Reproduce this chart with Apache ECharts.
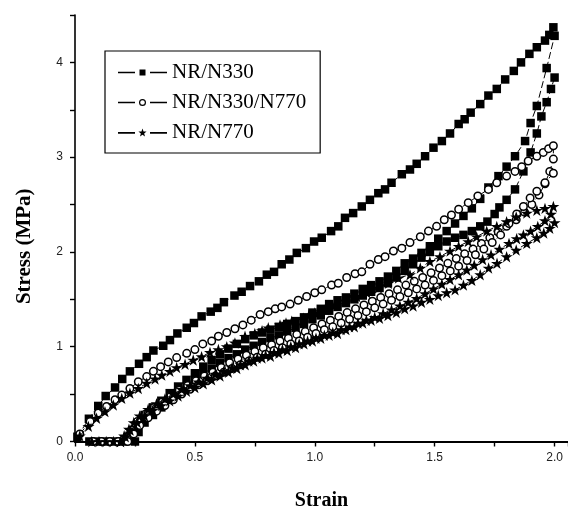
<!DOCTYPE html>
<html><head><meta charset="utf-8">
<script src="https://cdn.jsdelivr.net/npm/echarts@6/dist/echarts.min.js"></script>
<style>html,body{margin:0;padding:0;background:#fff}#c{width:568px;height:515px}</style>
</head><body><div id="c"></div>
<script>
const seriesNames = ['NR/N330', 'NR/N330/N770', 'NR/N770'];
const xTickLabels = ['0.0', '0.5', '1.0', '1.5', '2.0'];
const yTickLabels = ['0', '1', '2', '3', '4'];

// NR/N330 : [strain, stress (MPa)]
const n330Loading = [[0.01,0.05],[0.058,0.24],[0.097,0.375],[0.128,0.48],[0.167,0.57],[0.197,0.66],[0.229,0.74],[0.267,0.82],[0.299,0.89],[0.327,0.96],[0.368,1.01],[0.396,1.07],[0.427,1.14],[0.466,1.20],[0.496,1.25],[0.528,1.32],[0.566,1.37],[0.594,1.41],[0.621,1.47],[0.665,1.54],[0.695,1.58],[0.73,1.64],[0.767,1.69],[0.80,1.76],[0.83,1.79],[0.862,1.87],[0.894,1.92],[0.925,1.99],[0.963,2.04],[0.997,2.11],[1.029,2.15],[1.068,2.22],[1.098,2.27],[1.126,2.36],[1.16,2.41],[1.196,2.48],[1.23,2.55],[1.265,2.62],[1.293,2.66],[1.32,2.73],[1.363,2.82],[1.397,2.87],[1.425,2.93],[1.46,3.01],[1.495,3.10],[1.53,3.17],[1.564,3.25],[1.60,3.35],[1.625,3.40],[1.65,3.47],[1.69,3.56],[1.724,3.65],[1.759,3.72],[1.794,3.82],[1.83,3.91],[1.86,4.00],[1.895,4.09],[1.926,4.16],[1.96,4.23],[1.978,4.29],[1.995,4.37]];
const n330Unloading = [[2.0,4.28],[1.967,3.94],[1.926,3.54],[1.90,3.36],[1.877,3.17],[1.835,3.01],[1.80,2.90],[1.766,2.80],[1.724,2.68],[1.69,2.56],[1.655,2.46],[1.62,2.38],[1.585,2.30],[1.55,2.22],[1.515,2.14],[1.48,2.06],[1.445,1.99],[1.41,1.93],[1.375,1.88],[1.34,1.80],[1.305,1.74],[1.27,1.69],[1.235,1.65],[1.20,1.61],[1.165,1.56],[1.13,1.52],[1.095,1.49],[1.06,1.45],[1.025,1.40],[0.99,1.36],[0.955,1.31],[0.92,1.27],[0.885,1.24],[0.85,1.21],[0.815,1.18],[0.78,1.15],[0.745,1.12],[0.71,1.08],[0.675,1.03],[0.64,0.98],[0.605,0.92],[0.57,0.86],[0.535,0.79],[0.50,0.72],[0.465,0.65],[0.43,0.58],[0.395,0.51],[0.36,0.43],[0.325,0.36],[0.29,0.28],[0.265,0.20],[0.25,0.12],[0.235,0.04],[0.20,0.0],[0.165,0.0],[0.13,0.0],[0.095,0.0],[0.06,0.0]];
const n330Reloading = [[0.25,0.0],[0.265,0.1],[0.29,0.2],[0.325,0.28],[0.36,0.36],[0.395,0.44],[0.43,0.51],[0.465,0.58],[0.50,0.65],[0.535,0.71],[0.57,0.77],[0.605,0.83],[0.64,0.88],[0.675,0.92],[0.71,0.97],[0.745,1.01],[0.78,1.05],[0.815,1.09],[0.85,1.12],[0.885,1.16],[0.92,1.20],[0.955,1.24],[0.99,1.29],[1.025,1.33],[1.06,1.38],[1.095,1.42],[1.13,1.46],[1.165,1.50],[1.20,1.54],[1.235,1.58],[1.27,1.62],[1.305,1.67],[1.34,1.73],[1.375,1.80],[1.41,1.87],[1.445,1.94],[1.48,2.00],[1.515,2.06],[1.55,2.11],[1.585,2.15],[1.62,2.18],[1.655,2.22],[1.69,2.27],[1.72,2.32],[1.75,2.40],[1.77,2.47],[1.80,2.55],[1.835,2.66],[1.87,2.85],[1.90,3.05],[1.926,3.25],[1.945,3.43],[1.967,3.58],[1.985,3.72],[2.0,3.84]];

// NR/N330/N770
const n330n770Loading = [[0.02,0.08],[0.063,0.21],[0.097,0.30],[0.132,0.37],[0.167,0.44],[0.195,0.49],[0.229,0.56],[0.264,0.63],[0.299,0.685],[0.327,0.74],[0.357,0.79],[0.389,0.84],[0.424,0.885],[0.466,0.93],[0.50,0.97],[0.533,1.03],[0.57,1.06],[0.598,1.11],[0.633,1.15],[0.667,1.19],[0.70,1.23],[0.735,1.28],[0.772,1.34],[0.806,1.37],[0.835,1.40],[0.862,1.42],[0.897,1.45],[0.931,1.49],[0.966,1.53],[1.0,1.57],[1.029,1.60],[1.07,1.65],[1.098,1.67],[1.133,1.73],[1.168,1.77],[1.196,1.79],[1.23,1.87],[1.265,1.92],[1.293,1.95],[1.328,2.01],[1.363,2.04],[1.397,2.10],[1.44,2.16],[1.474,2.22],[1.508,2.27],[1.54,2.34],[1.57,2.39],[1.60,2.45],[1.64,2.52],[1.68,2.59],[1.724,2.66],[1.759,2.73],[1.80,2.80],[1.835,2.85],[1.863,2.90],[1.89,2.96],[1.926,3.01],[1.953,3.05],[1.975,3.09],[1.995,3.12]];
const n330n770Unloading = [[1.995,2.98],[1.98,2.85],[1.96,2.72],[1.935,2.60],[1.905,2.50],[1.875,2.42],[1.84,2.34],[1.80,2.27],[1.765,2.21],[1.73,2.15],[1.695,2.09],[1.66,2.03],[1.625,1.98],[1.59,1.93],[1.555,1.88],[1.52,1.83],[1.485,1.78],[1.45,1.73],[1.415,1.69],[1.38,1.65],[1.345,1.60],[1.31,1.56],[1.275,1.52],[1.24,1.48],[1.205,1.44],[1.17,1.40],[1.135,1.36],[1.10,1.32],[1.065,1.28],[1.03,1.24],[0.995,1.20],[0.96,1.16],[0.925,1.13],[0.89,1.09],[0.855,1.06],[0.82,1.02],[0.785,0.99],[0.75,0.95],[0.715,0.91],[0.68,0.87],[0.645,0.83],[0.61,0.78],[0.575,0.73],[0.54,0.69],[0.505,0.64],[0.47,0.59],[0.435,0.54],[0.40,0.48],[0.365,0.42],[0.33,0.36],[0.295,0.29],[0.26,0.21],[0.235,0.12],[0.215,0.04],[0.18,0.0],[0.145,0.0],[0.11,0.0],[0.075,0.0]];
const n330n770Reloading = [[0.22,0.0],[0.245,0.08],[0.27,0.17],[0.305,0.25],[0.34,0.32],[0.375,0.38],[0.41,0.44],[0.445,0.50],[0.48,0.55],[0.515,0.60],[0.55,0.64],[0.585,0.69],[0.62,0.73],[0.655,0.77],[0.69,0.81],[0.725,0.85],[0.76,0.89],[0.795,0.92],[0.83,0.96],[0.865,0.99],[0.90,1.03],[0.935,1.06],[0.97,1.10],[1.005,1.14],[1.04,1.18],[1.075,1.21],[1.11,1.25],[1.145,1.29],[1.18,1.33],[1.215,1.37],[1.25,1.41],[1.285,1.45],[1.32,1.49],[1.355,1.53],[1.39,1.57],[1.425,1.61],[1.46,1.65],[1.495,1.70],[1.53,1.75],[1.565,1.80],[1.60,1.85],[1.635,1.91],[1.67,1.97],[1.705,2.03],[1.74,2.10],[1.775,2.18],[1.81,2.30],[1.842,2.40],[1.87,2.48],[1.898,2.57],[1.926,2.64],[1.96,2.73],[1.995,2.83]];

// NR/N770
const n770Loading = [[0.02,0.06],[0.056,0.16],[0.09,0.245],[0.125,0.315],[0.16,0.385],[0.195,0.455],[0.229,0.51],[0.264,0.56],[0.299,0.615],[0.334,0.66],[0.362,0.70],[0.396,0.74],[0.424,0.78],[0.459,0.815],[0.493,0.86],[0.528,0.895],[0.563,0.94],[0.598,0.97],[0.633,1.0],[0.667,1.04],[0.709,1.11],[0.75,1.14],[0.78,1.17],[0.806,1.20],[0.855,1.23],[0.88,1.25],[0.904,1.27],[0.952,1.30],[0.975,1.33],[1.0,1.355],[1.043,1.39],[1.085,1.44],[1.126,1.48],[1.175,1.53],[1.217,1.57],[1.265,1.62],[1.307,1.67],[1.349,1.725],[1.397,1.76],[1.44,1.83],[1.48,1.90],[1.522,1.95],[1.564,2.01],[1.60,2.06],[1.64,2.11],[1.675,2.16],[1.717,2.22],[1.759,2.27],[1.80,2.32],[1.84,2.37],[1.884,2.41],[1.926,2.44],[1.96,2.46],[1.995,2.48]];
const n770Unloading = [[1.985,2.40],[1.96,2.33],[1.93,2.27],[1.90,2.22],[1.87,2.18],[1.842,2.14],[1.81,2.09],[1.77,2.03],[1.735,1.97],[1.70,1.92],[1.665,1.86],[1.634,1.81],[1.60,1.76],[1.564,1.71],[1.53,1.66],[1.495,1.61],[1.46,1.56],[1.425,1.51],[1.39,1.47],[1.355,1.43],[1.32,1.39],[1.285,1.35],[1.25,1.31],[1.215,1.28],[1.18,1.25],[1.145,1.21],[1.11,1.18],[1.075,1.15],[1.04,1.12],[1.005,1.09],[0.97,1.06],[0.935,1.03],[0.90,1.0],[0.865,0.97],[0.83,0.94],[0.795,0.91],[0.76,0.88],[0.725,0.85],[0.69,0.81],[0.655,0.78],[0.62,0.74],[0.585,0.71],[0.55,0.67],[0.515,0.63],[0.48,0.59],[0.445,0.55],[0.41,0.50],[0.375,0.45],[0.34,0.40],[0.305,0.34],[0.27,0.27],[0.245,0.20],[0.225,0.13],[0.205,0.06],[0.19,0.0],[0.16,0.0],[0.13,0.0],[0.10,0.0],[0.07,0.0]];
const n770Reloading = [[0.19,0.0],[0.21,0.05],[0.23,0.12],[0.26,0.2],[0.29,0.27],[0.325,0.33],[0.36,0.38],[0.395,0.43],[0.43,0.48],[0.465,0.53],[0.50,0.57],[0.535,0.61],[0.57,0.65],[0.605,0.69],[0.64,0.73],[0.675,0.77],[0.71,0.81],[0.745,0.85],[0.78,0.88],[0.815,0.90],[0.85,0.93],[0.885,0.96],[0.92,0.99],[0.955,1.03],[0.99,1.06],[1.025,1.09],[1.06,1.12],[1.095,1.14],[1.13,1.18],[1.165,1.21],[1.20,1.25],[1.235,1.28],[1.27,1.30],[1.305,1.33],[1.34,1.36],[1.375,1.40],[1.41,1.43],[1.445,1.47],[1.48,1.50],[1.515,1.54],[1.55,1.57],[1.585,1.60],[1.62,1.65],[1.655,1.70],[1.69,1.76],[1.725,1.83],[1.76,1.88],[1.80,1.95],[1.84,2.02],[1.884,2.09],[1.926,2.15],[1.955,2.20],[1.98,2.25],[2.0,2.31]];

const STAR = 'path://M50,0L61.2,34.5L97.6,34.5L68.2,55.9L79.4,90.5L50,69.1L20.6,90.5L31.8,55.9L2.4,34.5L38.8,34.5Z';
const LEG_SQUARE = 'path://M0,4.2h17v1.6h-17z M21.5,2h6v6h-6z M32,4.2h17v1.6h-17z';
const LEG_CIRCLE = 'path://M0,4.2h17v1.6h-17z M21,5a3.5,3.5 0 1,0 7,0a3.5,3.5 0 1,0 -7,0z M22.2,5a2.3,2.3 0 1,1 4.6,0a2.3,2.3 0 1,1 -4.6,0z M32,4.2h17v1.6h-17z';
const LEG_STAR = 'path://M0,4.2h17v1.6h-17z M24.5,0.7L25.53,3.58L28.59,3.67L26.16,5.54L27.03,8.48L24.5,6.75L21.97,8.48L22.84,5.54L20.41,3.67L23.47,3.58Z M32,4.2h17v1.6h-17z';

const lineStyle = { color: '#000', width: 1, type: [7, 3] };
const chart = echarts.init(document.getElementById('c'), null, { renderer: 'canvas' });
chart.setOption({
  animation: false,
  backgroundColor: '#fff',
  grid: { left: 75, right: 0, top: 15, bottom: 73.5, outerBoundsMode: 'none', containLabel: false },
  legend: {
    orient: 'vertical', left: 105, top: 51,
    padding: [11, 14, 10, 13], itemGap: 9, itemWidth: 49, itemHeight: 10,
    borderColor: '#000', borderWidth: 1.2, backgroundColor: '#fff',
    textStyle: { fontFamily: 'Liberation Serif', fontSize: 21, color: '#000', lineHeight: 20 },
    data: [
      { name: seriesNames[0], icon: LEG_SQUARE, itemStyle: { color: '#000', borderWidth: 0 } },
      { name: seriesNames[1], icon: LEG_CIRCLE, itemStyle: { color: '#000', borderWidth: 0 } },
      { name: seriesNames[2], icon: LEG_STAR, itemStyle: { color: '#000', borderWidth: 0 } }
    ]
  },
  xAxis: [{
    type: 'value', min: 0, max: 2.056, interval: 0.25,
    name: 'Strain', nameLocation: 'middle', nameGap: 49,
    nameTextStyle: { fontFamily: 'Liberation Serif', fontWeight: 'bold', fontSize: 20, color: '#000' },
    axisLine: { show: true, onZero: false, lineStyle: { color: '#000', width: 1.8 } },
    axisTick: { show: true, inside: false, length: 5, lineStyle: { color: '#000', width: 1.4 } },
    axisLabel: {
      margin: 10, fontFamily: 'Liberation Sans', fontSize: 12, color: '#222',
      formatter: function (v) { const k = Math.round(v * 2); return Math.abs(v * 2 - k) < 1e-6 ? (xTickLabels[k] || '') : ''; }
    },
    splitLine: { show: false }
  }, {
    type: 'value', min: 0, max: 2.056, position: 'top',
    axisLine: { show: true, lineStyle: { color: '#000', width: 1.8 } },
    axisTick: { show: false }, axisLabel: { show: false }, splitLine: { show: false }
  }],
  yAxis: {
    type: 'value', min: 0, max: 4.5, interval: 0.5,
    name: 'Stress (MPa)', nameLocation: 'middle', nameGap: 40, nameRotate: 90,
    nameTextStyle: { fontFamily: 'Liberation Serif', fontWeight: 'bold', fontSize: 21, color: '#000', padding: [0, 36, 0, 0] },
    axisLine: { show: true, onZero: false, lineStyle: { color: '#000', width: 1.6 } },
    axisTick: { show: true, inside: false, length: 5, lineStyle: { color: '#000', width: 1.4 } },
    axisLabel: {
      margin: 12, fontFamily: 'Liberation Sans', fontSize: 12, color: '#222',
      formatter: function (v) { return Number.isInteger(v) ? (yTickLabels[v] || '') : ''; }
    },
    splitLine: { show: false }
  },
  series: [
    {
      name: seriesNames[0], type: 'line', xAxisIndex: 0,
      data: n330Loading.concat(n330Unloading, n330Reloading),
      symbol: 'rect', symbolSize: 8.5, showAllSymbol: true,
      itemStyle: { color: '#000' }, lineStyle: lineStyle, z: 2
    },
    {
      name: seriesNames[1], type: 'line', xAxisIndex: 0,
      data: n330n770Loading.concat(n330n770Unloading, n330n770Reloading),
      symbol: 'circle', symbolSize: 7.5, showAllSymbol: true,
      itemStyle: { color: '#fff', borderColor: '#000', borderWidth: 1.5 }, lineStyle: lineStyle, z: 3
    },
    {
      name: seriesNames[2], type: 'line', xAxisIndex: 0,
      data: n770Loading.concat(n770Unloading, n770Reloading),
      symbol: STAR, symbolSize: 12, symbolKeepAspect: true, showAllSymbol: true,
      itemStyle: { color: '#000' }, lineStyle: lineStyle, z: 4
    }
  ]
});
</script></body></html>
